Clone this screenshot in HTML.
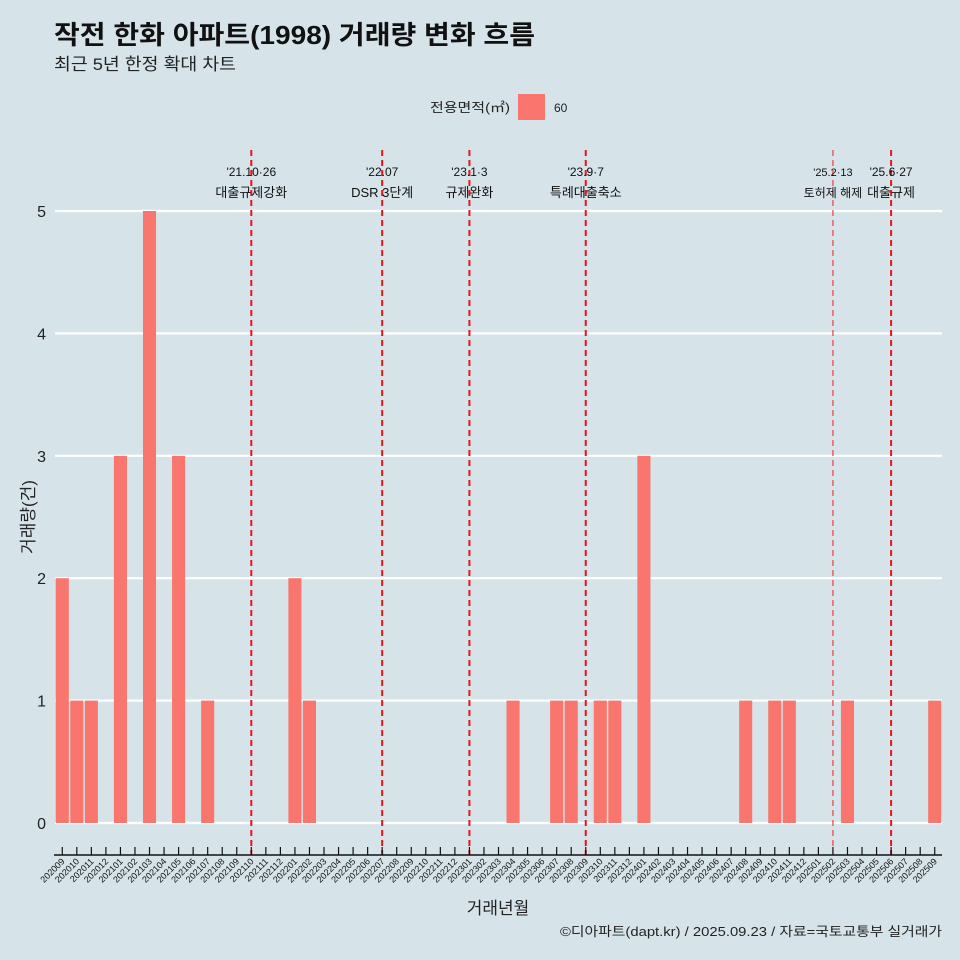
<!DOCTYPE html>
<html><head><meta charset="utf-8"><style>
body{margin:0;background:#d6e4ea;}
svg{display:block;font-family:"Liberation Sans","Noto Sans CJK KR",sans-serif;}
</style></head><body>
<svg id="c" width="960" height="960" viewBox="0 0 960 960">
<rect width="960" height="960" fill="#d6e4ea"/>
<text x="54" y="44" font-size="26" font-weight="bold" fill="#111" textLength="481" lengthAdjust="spacingAndGlyphs">작전 한화 아파트(1998) 거래량 변화 흐름</text>
<text x="54" y="70" font-size="17" fill="#222" textLength="182" lengthAdjust="spacingAndGlyphs">최근 5년 한정 확대 차트</text>
<g>
<text x="430" y="112" font-size="13" fill="#222" textLength="80" lengthAdjust="spacingAndGlyphs">전용면적(㎡)</text>
<rect x="518" y="94" width="27" height="26" fill="#f8766d"/>
<text x="554" y="112" font-size="12" fill="#222">60</text>
</g>
<g id="grid"></g><g id="bars"></g><g id="events"></g><g id="axes"></g>
<text x="498" y="914" font-size="17" text-anchor="middle" fill="#222">거래년월</text>
<text transform="translate(34,517) rotate(-90)" font-size="17" text-anchor="middle" fill="#222">거래량(건)</text>
<text x="560" y="936" font-size="13" fill="#222" textLength="382" lengthAdjust="spacingAndGlyphs">©디아파트(dapt.kr) / 2025.09.23 / 자료=국토교통부 실거래가</text>
</svg>
<script>
const months=[];for(let y=2020;y<=2025;y++)for(let m=1;m<=12;m++){const k=y*100+m;if(k>=202009&&k<=202509)months.push(String(k));}
const values=[2,1,1,0,3,0,5,0,3,0,1,0,0,0,0,0,2,1,0,0,0,0,0,0,0,0,0,0,0,0,0,1,0,0,1,1,0,1,1,0,3,0,0,0,0,0,0,1,0,1,1,0,0,0,1,0,0,0,0,0,1];
const yTicks=[0,1,2,3,4,5];
const eventMonths=["202110","202207","202301","202309","202502","202506"];
const eventDates=["'21.10·26","'22.07","'23.1·3","'23.9·7","'25.2·13","'25.6·27"];
const eventLabels=["대출규제강화","DSR 3단계","규제완화","특례대출축소","토허제 해제","대출규제"];
const NS="http://www.w3.org/2000/svg";
const L=55,R=942,Y0=823,Y5=211,band=(R-L)/months.length;
const xc=i=>L+band*(i+0.5);
const ys=v=>Y0-(Y0-Y5)*v/5;
function mk(p,t,a){const e=document.createElementNS(NS,t);for(const k in a)e.setAttribute(k,a[k]);p.appendChild(e);return e;}
const G=id=>document.getElementById(id);
yTicks.forEach(v=>{
 const l=mk(G('grid'),'line',{x1:L,x2:R,y1:ys(v),y2:ys(v),stroke:'#fff','stroke-width':2.2});
 
 
 const t=mk(G('grid'),'text',{x:46,y:ys(v)+6,'font-size':16,'text-anchor':'end',fill:'#222'});t.textContent=v;
 
 
});
values.forEach((v,i)=>{if(!v)return;
 const r=mk(G('bars'),'rect',{x:xc(i)-band*0.45,width:band*0.9,y:ys(v),height:Y0-ys(v),fill:'#f8766d'});
 
 
});
eventMonths.forEach((m,j)=>{const i=months.indexOf(m);const x=xc(i);const thin=m==="202502";
 const l=mk(G('events'),'line',{x1:x,x2:x,y1:150,y2:855,stroke:thin?'#e84040':'#e8141a','stroke-width':thin?1.2:2,'stroke-dasharray':'6,4'});
 
 
 const a=mk(G('events'),'text',{x:x,y:176,'font-size':thin?11:12,'text-anchor':'middle',fill:'#111'});a.textContent=eventDates[j];
 
 
 const b=mk(G('events'),'text',{x:x,y:197,'font-size':thin?12:13,'text-anchor':'middle',fill:'#111'});b.textContent=eventLabels[j];
 
 
});
const ax=mk(G('axes'),'line',{x1:54,x2:R,y1:855,y2:855,stroke:'#111','stroke-width':1.5});


months.forEach((m,i)=>{const x=xc(i);
 mk(G('axes'),'line',{x1:x,x2:x,y1:847,y2:855,stroke:'#111','stroke-width':1.2});
 const t=mk(G('axes'),'text',{transform:`translate(${x+3},862) rotate(-45)`,'font-size':9,'text-anchor':'end',fill:'#111'});t.textContent=m;
 
 
});
</script>
</body></html>
